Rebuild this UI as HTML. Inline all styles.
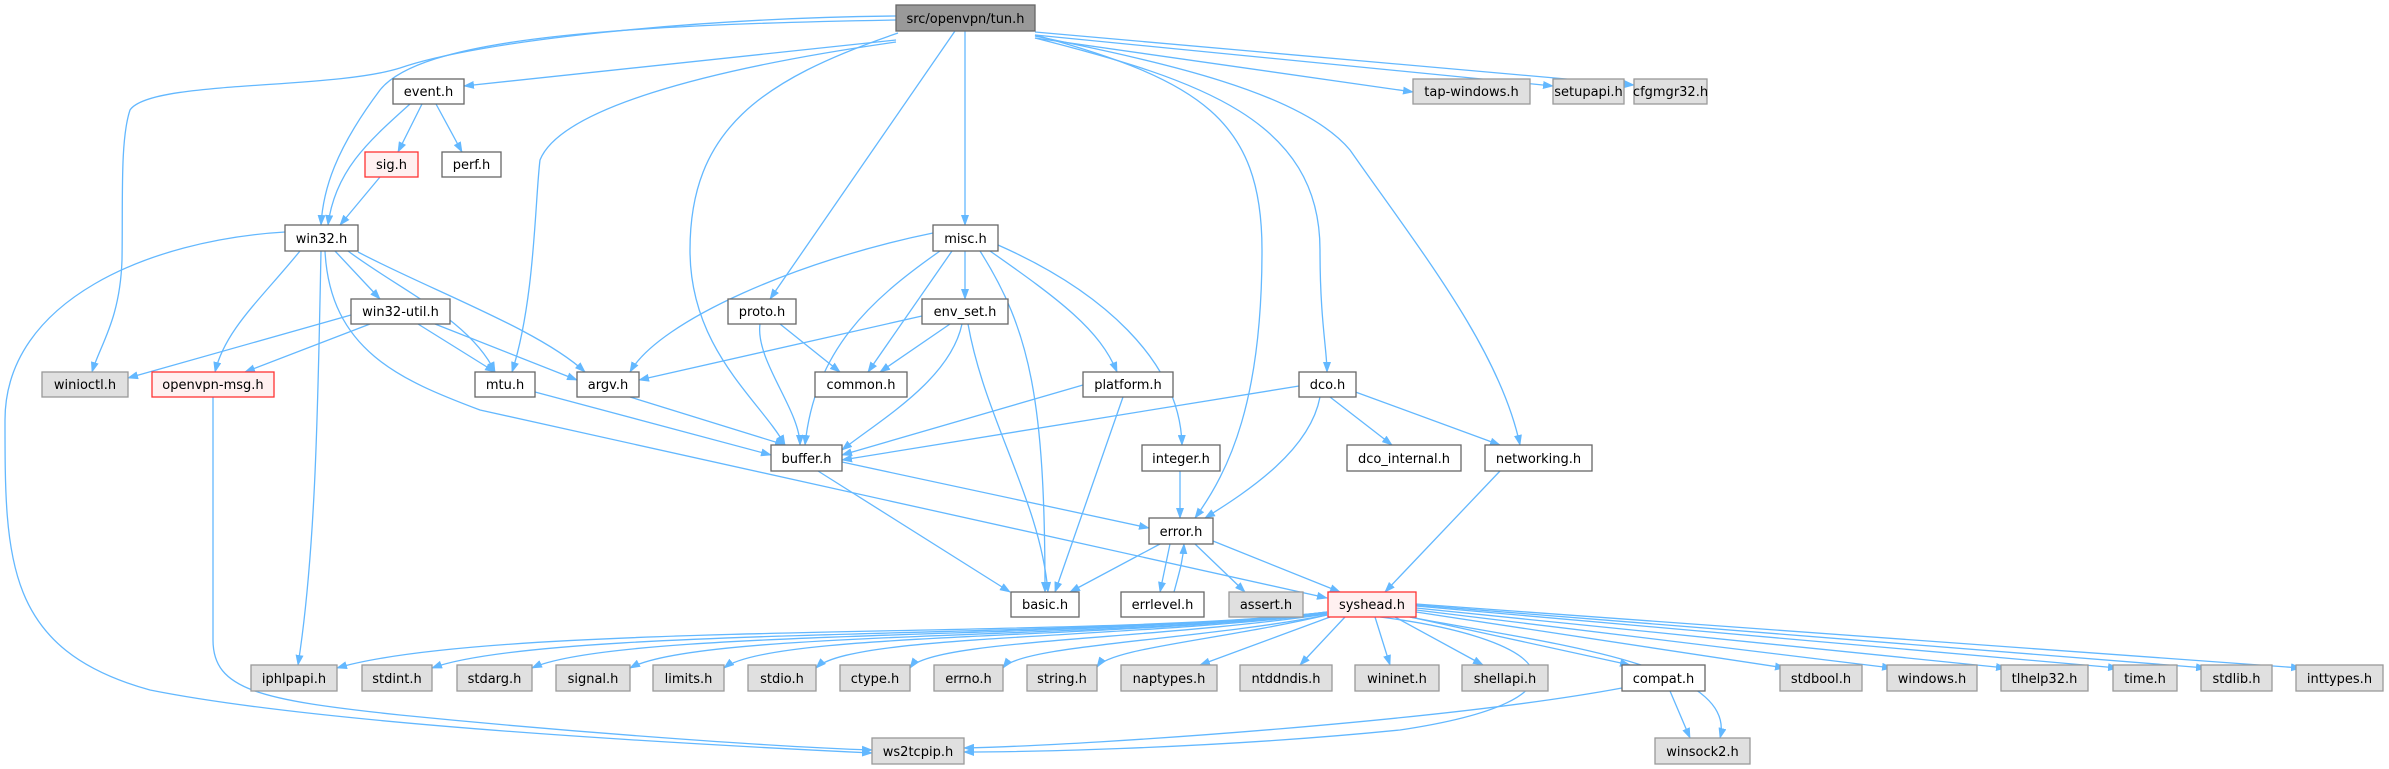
<!DOCTYPE html>
<html><head><meta charset="utf-8"><style>
html,body{margin:0;padding:0;background:#fff;}
svg{display:block;}
.e{fill:none;stroke:#63b8ff;stroke-width:1.3;}
text{font-family:"DejaVu Sans","Liberation Sans",sans-serif;font-size:13px;fill:#000;text-anchor:middle;}
</style></head><body>
<svg width="2389" height="769" viewBox="0 0 2389 769" xmlns="http://www.w3.org/2000/svg">
<defs><marker id="a" markerWidth="11" markerHeight="8" refX="10" refY="4" orient="auto" markerUnits="userSpaceOnUse"><path d="M0,0 L11,4 L0,8 Z" fill="#63b8ff"/></marker></defs>
<g class="e" marker-end="url(#a)">
<path d="M896,16 C700,18 480,40 400,68 C330,90 150,80 130,110 C120,140 123,200 122,260 C120,320 100,345 92,372"/>
<path d="M896,20 C600,25 420,40 380,90 C335,150 323,190 321,225"/>
<path d="M410,104 C370,140 335,170 328,225"/>
<path d="M422,104 L398,152"/>
<path d="M436,104 L462,152"/>
<path d="M380,177 L340,225"/>
<path d="M896,40 L464,86"/>
<path d="M896,42 C700,70 560,110 540,160 C535,200 535,300 512,372"/>
<path d="M898,33 C760,80 690,130 690,250 C690,350 760,400 785,445"/>
<path d="M955,31 L770,299"/>
<path d="M965,31 L965,225"/>
<path d="M1035,35 C1200,80 1262,120 1262,250 C1262,400 1230,470 1195,518"/>
<path d="M1035,38 C1200,80 1320,120 1320,250 C1320,320 1327,350 1327,372"/>
<path d="M1035,36 C1150,60 1300,90 1350,150 C1420,250 1500,350 1520,445"/>
<path d="M1035,38 L1413,92"/>
<path d="M1035,35 L1553,86"/>
<path d="M1035,32 L1634,85"/>
<path d="M285,232 C150,240 5,300 5,420 C5,560 5,650 150,690 C300,720 600,740 872,753"/>
<path d="M300,251 C260,300 225,330 215,372"/>
<path d="M321,251 C318,400 316,550 298,665"/>
<path d="M335,251 L380,299"/>
<path d="M348,251 C400,290 470,320 495,372"/>
<path d="M358,252 C430,290 540,330 585,372"/>
<path d="M325,251 C330,350 400,380 480,410 L1327,598"/>
<path d="M351,315 L128,378"/>
<path d="M370,324 L245,372"/>
<path d="M418,324 L495,372"/>
<path d="M435,324 L577,380"/>
<path d="M213,397 L213,640 C213,690 260,700 400,715 C600,735 800,748 872,750"/>
<path d="M535,392 L771,455"/>
<path d="M630,397 L785,445"/>
<path d="M780,324 L840,372"/>
<path d="M760,324 C755,360 800,410 800,445"/>
<path d="M933,233 C800,260 660,320 630,372"/>
<path d="M940,251 C870,300 815,350 805,445"/>
<path d="M952,251 L868,372"/>
<path d="M965,251 L965,299"/>
<path d="M980,251 C1030,330 1045,400 1045,592"/>
<path d="M990,251 C1060,300 1100,330 1117,372"/>
<path d="M998,245 C1100,290 1180,360 1182,445"/>
<path d="M922,316 L639,380"/>
<path d="M950,324 L880,372"/>
<path d="M962,324 C950,380 880,420 842,450"/>
<path d="M968,324 C985,420 1040,500 1048,592"/>
<path d="M1083,385 L842,455"/>
<path d="M1123,397 L1055,592"/>
<path d="M1299,386 L842,460"/>
<path d="M1320,397 C1310,450 1250,490 1205,518"/>
<path d="M1330,397 L1392,445"/>
<path d="M1350,390 L1500,445"/>
<path d="M842,462 L1149,528"/>
<path d="M818,471 L1010,592"/>
<path d="M1180,471 L1180,518"/>
<path d="M1160,544 L1070,592"/>
<path d="M1170,544 L1160,592"/>
<path d="M1174,592 C1180,570 1183,560 1184,544"/>
<path d="M1195,544 L1245,592"/>
<path d="M1213,541 L1340,592"/>
<path d="M1500,471 L1385,592"/>
<path d="M1327,612 C1100,640 500,620 337,668"/>
<path d="M1327,612 C1100,640 550,625 432,668"/>
<path d="M1327,612 C1100,640 620,628 532,668"/>
<path d="M1327,613 C1100,640 700,630 630,668"/>
<path d="M1327,613 C1100,640 770,632 724,668"/>
<path d="M1327,614 C1100,640 850,635 816,668"/>
<path d="M1327,614 C1150,640 930,640 910,668"/>
<path d="M1327,615 C1200,640 1020,645 1003,668"/>
<path d="M1327,615 C1220,640 1110,648 1097,667"/>
<path d="M1330,617 L1200,665"/>
<path d="M1345,617 L1300,665"/>
<path d="M1375,617 L1390,665"/>
<path d="M1395,617 L1483,665"/>
<path d="M1410,617 L1630,665"/>
<path d="M1416,612 L1785,668"/>
<path d="M1416,610 L1892,668"/>
<path d="M1416,608 L2006,668"/>
<path d="M1416,606 L2118,668"/>
<path d="M1416,605 L2206,668"/>
<path d="M1416,604 L2301,668"/>
<path d="M1400,615 C1520,640 1740,660 1720,738"/>
<path d="M1380,617 C1560,640 1600,700 1400,730 C1200,750 1000,752 964,752"/>
<path d="M1622,688 C1450,720 1100,745 964,748"/>
<path d="M1670,691 L1690,738"/>
</g>
<g stroke-width="1.3">
<rect x="896" y="5" width="139" height="26" fill="#999" stroke="#666"/><text x="965.5" y="23" textLength="118" lengthAdjust="spacingAndGlyphs">src/openvpn/tun.h</text>
<g fill="#fff" stroke="#666">
<rect x="393" y="79" width="71" height="25"/><rect x="442" y="152" width="59" height="25"/>
<rect x="285" y="225" width="73" height="26"/><rect x="351" y="299" width="99" height="25"/>
<rect x="728" y="299" width="68" height="25"/><rect x="933" y="225" width="65" height="26"/>
<rect x="922" y="299" width="86" height="25"/><rect x="475" y="372" width="60" height="25"/>
<rect x="577" y="372" width="62" height="25"/><rect x="815" y="372" width="92" height="25"/>
<rect x="1083" y="372" width="90" height="25"/><rect x="1299" y="372" width="57" height="25"/>
<rect x="771" y="445" width="71" height="26"/><rect x="1142" y="445" width="78" height="26"/>
<rect x="1347" y="445" width="114" height="26"/><rect x="1485" y="445" width="107" height="26"/>
<rect x="1149" y="518" width="64" height="26"/><rect x="1011" y="592" width="68" height="25"/>
<rect x="1121" y="592" width="83" height="25"/><rect x="1622" y="665" width="83" height="26"/>
</g>
<g fill="#fff0f0" stroke="#f33">
<rect x="365" y="152" width="53" height="25"/><rect x="152" y="372" width="122" height="25"/><rect x="1328" y="592" width="88" height="25"/>
</g>
<g fill="#e0e0e0" stroke="#999">
<rect x="1413" y="79" width="117" height="25"/><rect x="1553" y="79" width="71" height="25"/><rect x="1634" y="79" width="73" height="25"/>
<rect x="42" y="372" width="86" height="25"/><rect x="1229" y="592" width="74" height="25"/>
<rect x="251" y="665" width="86" height="26"/><rect x="362" y="665" width="70" height="26"/><rect x="457" y="665" width="75" height="26"/>
<rect x="556" y="665" width="74" height="26"/><rect x="653" y="665" width="71" height="26"/><rect x="748" y="665" width="68" height="26"/>
<rect x="840" y="665" width="70" height="26"/><rect x="934" y="665" width="69" height="26"/><rect x="1027" y="665" width="70" height="26"/>
<rect x="1121" y="665" width="96" height="26"/><rect x="1240" y="665" width="92" height="26"/><rect x="1355" y="665" width="84" height="26"/>
<rect x="1462" y="665" width="86" height="26"/><rect x="1780" y="665" width="82" height="26"/><rect x="1887" y="665" width="90" height="26"/>
<rect x="2001" y="665" width="87" height="26"/><rect x="2113" y="665" width="64" height="26"/><rect x="2201" y="665" width="71" height="26"/>
<rect x="2296" y="665" width="87" height="26"/><rect x="872" y="738" width="92" height="26"/><rect x="1655" y="738" width="95" height="26"/>
</g>
</g>
<g>
<text x="428.5" y="96">event.h</text><text x="391.5" y="169">sig.h</text><text x="471.5" y="169">perf.h</text>
<text x="321.5" y="243">win32.h</text><text x="400.5" y="316">win32-util.h</text><text x="762" y="316">proto.h</text>
<text x="965.5" y="243">misc.h</text><text x="965" y="316">env_set.h</text>
<text x="1471.5" y="96">tap-windows.h</text><text x="1588.5" y="96">setupapi.h</text><text x="1670.5" y="96">cfgmgr32.h</text>
<text x="85" y="389">winioctl.h</text><text x="213" y="389">openvpn-msg.h</text><text x="505" y="389">mtu.h</text>
<text x="608" y="389">argv.h</text><text x="861" y="389">common.h</text><text x="1128" y="389">platform.h</text><text x="1327.5" y="389">dco.h</text>
<text x="806.5" y="463">buffer.h</text><text x="1181" y="463">integer.h</text><text x="1404" y="463">dco_internal.h</text><text x="1538.5" y="463">networking.h</text>
<text x="1181" y="536">error.h</text><text x="1045" y="609">basic.h</text><text x="1162.5" y="609">errlevel.h</text><text x="1266" y="609">assert.h</text><text x="1372" y="609">syshead.h</text>
<text x="294" y="683">iphlpapi.h</text><text x="397" y="683">stdint.h</text><text x="494.5" y="683">stdarg.h</text><text x="593" y="683">signal.h</text>
<text x="688.5" y="683">limits.h</text><text x="782" y="683">stdio.h</text><text x="875" y="683">ctype.h</text><text x="968.5" y="683">errno.h</text>
<text x="1062" y="683">string.h</text><text x="1169" y="683">naptypes.h</text><text x="1286" y="683">ntddndis.h</text><text x="1397" y="683">wininet.h</text>
<text x="1505" y="683">shellapi.h</text><text x="1663.5" y="683">compat.h</text><text x="1821" y="683">stdbool.h</text><text x="1932" y="683">windows.h</text>
<text x="2044.5" y="683">tlhelp32.h</text><text x="2145" y="683">time.h</text><text x="2236.5" y="683">stdlib.h</text><text x="2339.5" y="683">inttypes.h</text>
<text x="918" y="756">ws2tcpip.h</text><text x="1702.5" y="756">winsock2.h</text>
</g>
</svg>
</body></html>
